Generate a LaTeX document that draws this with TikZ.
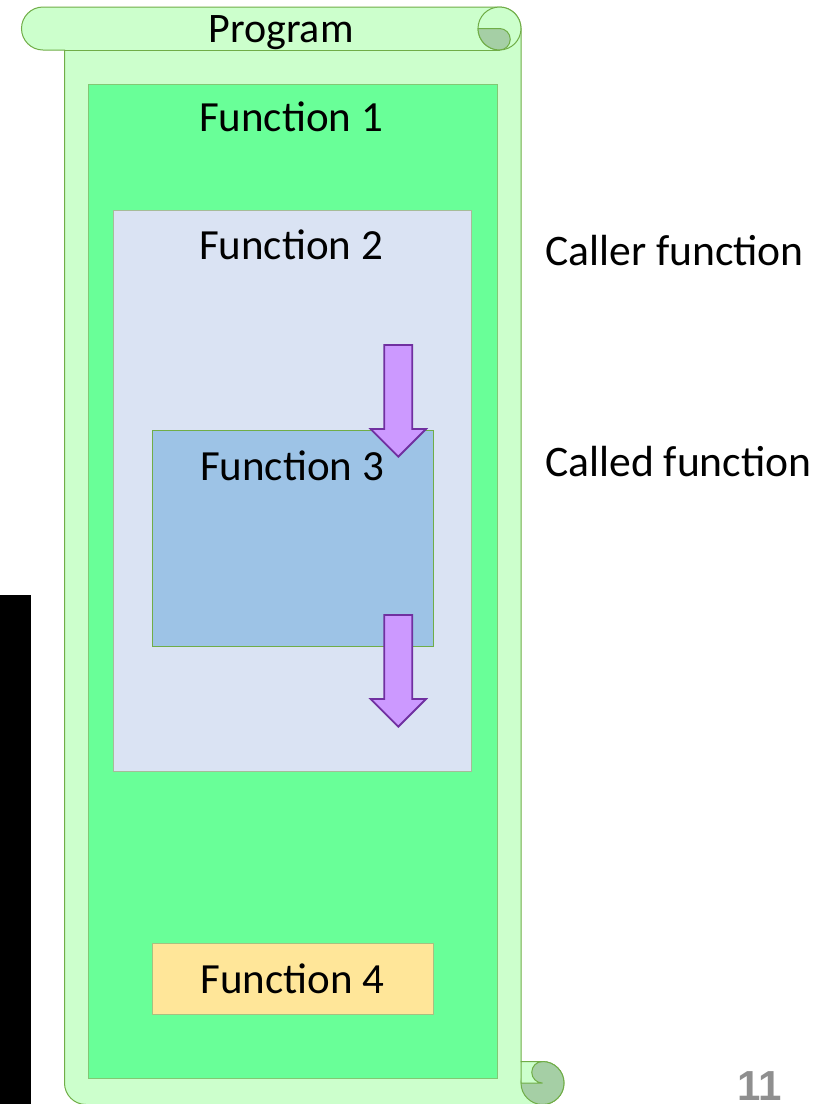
\documentclass[tikz,border=0pt]{standalone}
\usepackage{fontspec}
\setmainfont{Carlito}
\newfontfamily\numfont{Liberation Sans}
\definecolor{scrollfill}{HTML}{CCFFCC}
\definecolor{scrollline}{HTML}{70AD47}
\definecolor{scrolldark}{HTML}{A5CFA5}
\definecolor{fonefill}{HTML}{69FF98}
\definecolor{foneline}{HTML}{82C873}
\definecolor{ftwofill}{HTML}{DAE3F3}
\definecolor{ftwoline}{HTML}{A6BC98}
\definecolor{fthreefill}{HTML}{9DC3E6}
\definecolor{fthreeline}{HTML}{70AD47}
\definecolor{ffourfill}{HTML}{FFE699}
\definecolor{ffourline}{HTML}{A8C080}
\definecolor{arrowfill}{HTML}{CC99FF}
\definecolor{arrowline}{HTML}{7030A0}
\definecolor{pagegray}{HTML}{8F8F8F}
\tikzset{
  scrollshape/.style={draw=scrollline, line width=1pt, fill=scrollfill},
  scrollcurl/.style={draw=scrollline, line width=1pt, fill=scrolldark},
  funcbox/.style={rectangle, inner sep=0pt, line width=1pt},
  lbl/.style={font=\fontsize{43}{50}\selectfont, anchor=base, inner sep=0pt},
  sidelbl/.style={font=\fontsize{43.6}{50}\selectfont, anchor=base west, inner sep=0pt},
  flowarrow/.style={draw=arrowline, line width=1.8pt, fill=arrowfill, line join=miter},
}
\begin{document}
\begin{tikzpicture}[x=1pt,y=-1pt]
\useasboundingbox (0,0) rectangle (817,1104);

% black bar on the left edge
\fill[black] (0,595) rectangle (31,1104);

% the scroll: top roll, body and bottom roll
\path[scrollshape]
  (43,50) arc[start angle=270, end angle=90, radius=21.5pt]
  -- (499.5,7) arc[start angle=90, end angle=0, radius=21.5pt]
  -- (521,1061.5) -- (542.5,1061.5)
  arc[start angle=90, end angle=-90, radius=21.5pt]
  -- (86,1104.5) arc[start angle=270, end angle=180, radius=21.5pt]
  -- (64.5,50) -- cycle;
\draw[scrollline, line width=1pt] (64.5,50) -- (499.5,50);

% top curl
\draw[scrollshape] (499.5,28.5) circle[radius=21.5pt];
\draw[scrollcurl] (478,28.5) arc[start angle=180, end angle=270, radius=21.5pt]
  arc[start angle=270, end angle=450, radius=10.75pt] -- cycle;

% bottom curl
\draw[scrollcurl] (542.5,1083) circle[radius=21.5pt];
\draw[scrollshape] (521,1083) -- (542.5,1083)
  arc[start angle=270, end angle=90, radius=10.75pt] -- (521,1061.5) -- cycle;

% nested functions
\node[funcbox, draw=foneline, fill=fonefill, minimum width=409pt, minimum height=994pt] (f1) at (292.5,581) {};
\node[funcbox, draw=ftwoline, fill=ftwofill, minimum width=358pt, minimum height=561pt] (f2) at (292,490.5) {};
\node[funcbox, draw=fthreeline, fill=fthreefill, minimum width=281pt, minimum height=216pt] (f3) at (292.5,538) {};
\node[funcbox, draw=ffourline, fill=ffourfill, minimum width=281pt, minimum height=71pt] (f4) at (292.5,978.5) {};

% call / return arrows
\path[flowarrow] (384.3,345) -- (412.3,345) -- (412.3,429) -- (426,429)
  -- (398.3,456.7) -- (370.6,429) -- (384.3,429) -- cycle;
\path[flowarrow] (384.3,615) -- (412.3,615) -- (412.3,699) -- (426,699)
  -- (398.3,726.7) -- (370.6,699) -- (384.3,699) -- cycle;

% labels
\node[lbl, font=\fontsize{42}{50}\selectfont] (tprog) at (281,42) {Program};
\node[lbl] (tf1) at (291,131.7) {Function 1};
\node[lbl] (tf2) at (291,259.5) {Function 2};
\node[lbl] (tf3) at (292,480.5) {Function 3};
\node[lbl] (tf4) at (292.5,993) {Function 4};
\node[sidelbl] (tcaller) at (545,265.5) {Caller function};
\node[sidelbl] (tcalled) at (545,476.5) {Called function};

% slide number
\node[anchor=base west, inner sep=0pt, text=pagegray,
  font=\numfont\bfseries\fontsize{42}{50}\selectfont] (pnum) at (737,1100) {11};
\end{tikzpicture}
\end{document}
